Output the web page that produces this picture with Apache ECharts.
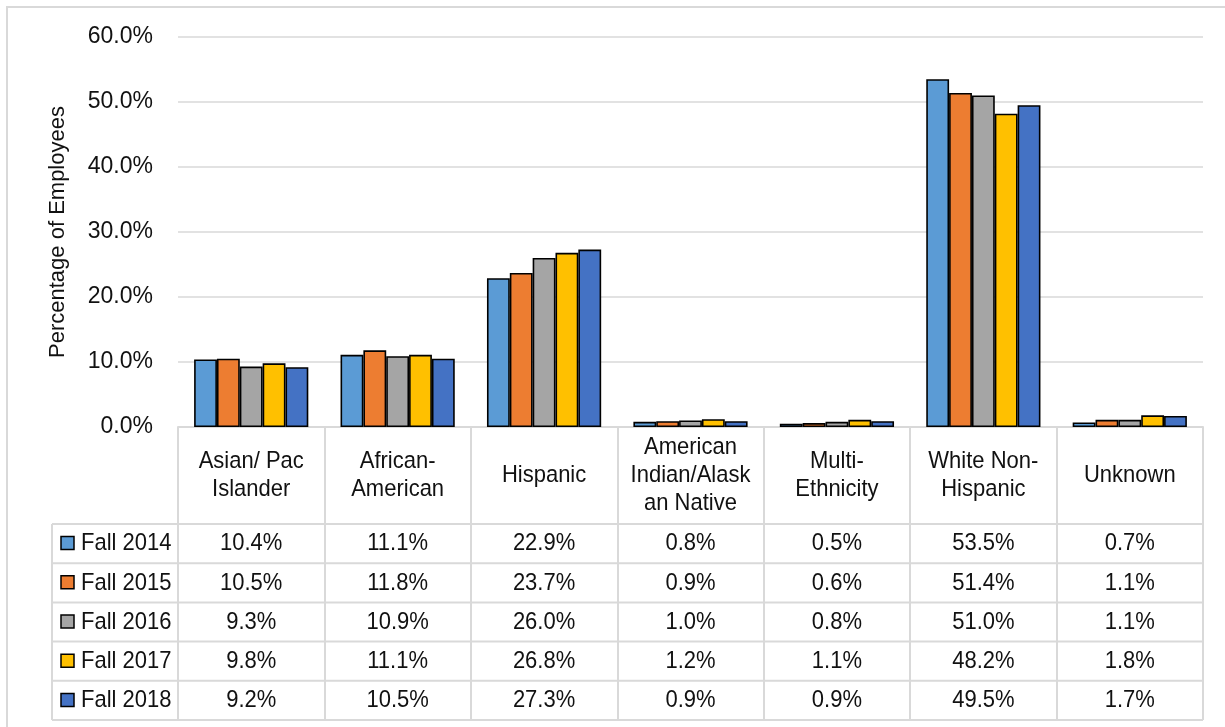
<!DOCTYPE html>
<html>
<head>
<meta charset="utf-8">
<script src="https://cdn.jsdelivr.net/npm/echarts@6/dist/echarts.min.js"></script>
<style>
  html, body { margin: 0; padding: 0; background: #fff; }
  #chart { width: 1225px; height: 727px; }
</style>
</head>
<body>
<div id="chart"></div>
<script>
// Employee ethnicity by fall term, percentage of all employees
const categories = [
  'Asian/ Pac\nIslander',
  'African-\nAmerican',
  'Hispanic',
  'American\nIndian/Alask\nan Native',
  'Multi-\nEthnicity',
  'White Non-\nHispanic',
  'Unknown'
];
const seriesNames = ['Fall 2014', 'Fall 2015', 'Fall 2016', 'Fall 2017', 'Fall 2018'];
const fall2014 = [10.4, 11.1, 22.9, 0.8, 0.5, 53.5, 0.7];
const fall2015 = [10.5, 11.8, 23.7, 0.9, 0.6, 51.4, 1.1];
const fall2016 = [9.3, 10.9, 26.0, 1.0, 0.8, 51.0, 1.1];
const fall2017 = [9.8, 11.1, 26.8, 1.2, 1.1, 48.2, 1.8];
const fall2018 = [9.2, 10.5, 27.3, 0.9, 0.9, 49.5, 1.7];
const seriesValues = [fall2014, fall2015, fall2016, fall2017, fall2018];
const colors = ['#5B9BD5', '#ED7D31', '#A5A5A5', '#FFC000', '#4472C4'];

const FONT_FAMILY = '"Liberation Sans", Arial, sans-serif';
const FONT_SIZE = 22;
const TEXT_COLOR = '#111';
const LINE_COLOR = '#d9d9d9';
// table text is drawn slightly taller than wide
const TEXT_STRETCH = 1.12;

const chart = echarts.init(document.getElementById('chart'), null, { renderer: 'canvas' });

const option = {
  animation: false,
  backgroundColor: '#fff',
  grid: { left: 178, right: 22, top: 37, bottom: 300, containLabel: false },
  xAxis: {
    type: 'category',
    data: categories,
    axisLine: { show: true, lineStyle: { color: LINE_COLOR, width: 2 } },
    axisTick: { show: true, interval: 0, length: 293, lineStyle: { color: LINE_COLOR, width: 2 } },
    axisLabel: { show: false }
  },
  yAxis: {
    type: 'value',
    min: 0,
    max: 60,
    interval: 10,
    name: 'Percentage of Employees',
    nameLocation: 'middle',
    nameRotate: 90,
    nameGap: 109,
    nameTextStyle: { fontFamily: FONT_FAMILY, fontSize: FONT_SIZE, color: TEXT_COLOR },
    axisLine: { show: false },
    axisTick: { show: false },
    axisLabel: {
      margin: 25,
      fontFamily: FONT_FAMILY,
      fontSize: FONT_SIZE + 1,
      color: TEXT_COLOR,
      formatter: v => v.toFixed(1) + '%'
    },
    splitLine: { lineStyle: { color: LINE_COLOR, width: 1.5 } }
  },
  series: seriesNames.map((name, i) => ({
    name,
    type: 'bar',
    data: seriesValues[i],
    barGap: '0%',
    barCategoryGap: '22%',
    itemStyle: { color: colors[i], borderColor: '#000', borderWidth: 1.6 },
    z: 3
  }))
};
chart.setOption(option);

// Data table drawn beneath the plot: category header row, then one row per term
function buildTable() {
  const font = FONT_SIZE + 'px ' + FONT_FAMILY;
  const baseY = chart.convertToPixel({ yAxisIndex: 0 }, 0);
  const firstX = chart.convertToPixel({ xAxisIndex: 0 }, 0);
  const secondX = chart.convertToPixel({ xAxisIndex: 0 }, 1);
  const colW = secondX - firstX;
  const plotLeft = firstX - colW / 2;
  const plotRight = plotLeft + colW * categories.length;
  const headerH = 97;
  const rowH = 39.2;
  const tableLeft = 52;
  const rowsTop = baseY + headerH;
  const rowsBottom = rowsTop + rowH * seriesNames.length;

  const label = (text, x, y, align, extra) => ({
    type: 'text', silent: true,
    x, y, scaleY: TEXT_STRETCH,
    style: Object.assign({ text, x: 0, y: 0, font, fill: TEXT_COLOR, align, verticalAlign: 'middle' }, extra || {})
  });

  const elements = [];
  // outer chart frame
  elements.push({
    type: 'rect', silent: true, z: 0,
    shape: { x: 7, y: 7, width: 1240, height: 740 },
    style: { fill: 'none', stroke: LINE_COLOR, lineWidth: 2 }
  });
  // left edge of legend column
  elements.push({
    type: 'line', silent: true,
    shape: { x1: tableLeft, y1: rowsTop, x2: tableLeft, y2: rowsBottom },
    style: { stroke: LINE_COLOR, lineWidth: 2 }
  });
  // horizontal row lines
  for (let r = 0; r <= seriesNames.length; r++) {
    const y = rowsTop + rowH * r;
    elements.push({
      type: 'line', silent: true,
      shape: { x1: tableLeft, y1: y, x2: plotRight, y2: y },
      style: { stroke: LINE_COLOR, lineWidth: 2 }
    });
  }
  // category headers
  categories.forEach((cat, c) => {
    const cx = chart.convertToPixel({ xAxisIndex: 0 }, c);
    elements.push(label(cat, cx, baseY + headerH / 2, 'center', { lineHeight: 25 }));
  });
  // term rows
  seriesNames.forEach((name, r) => {
    const cy = rowsTop + rowH * (r + 0.5);
    elements.push({
      type: 'rect', silent: true,
      shape: { x: 61, y: cy - 7, width: 13, height: 13 },
      style: { fill: colors[r], stroke: '#000', lineWidth: 1.5 }
    });
    elements.push(label(name, 81, cy, 'left'));
    seriesValues[r].forEach((v, c) => {
      const cx = chart.convertToPixel({ xAxisIndex: 0 }, c);
      elements.push(label(v.toFixed(1) + '%', cx, cy, 'center'));
    });
  });
  chart.setOption({ graphic: { elements } });
}
buildTable();
</script>
</body>
</html>
